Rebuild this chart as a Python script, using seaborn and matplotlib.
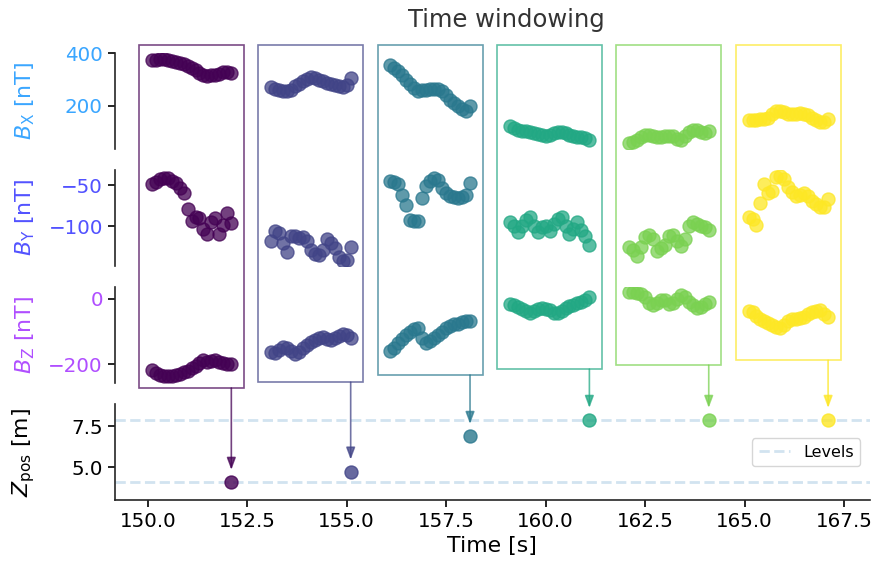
import numpy as np
import pandas as pd
import matplotlib
matplotlib.use("Agg")
import matplotlib.pyplot as plt
import seaborn as sns
from matplotlib.patches import Rectangle

# ---------------- data ----------------
window_starts = [150.1, 153.1, 156.1, 159.1, 162.1, 165.1]
sample_offsets = [0.0, 0.1, 0.2, 0.3, 0.4, 0.5, 0.6, 0.7, 0.8, 0.9, 1.0,
                  1.1, 1.2, 1.3, 1.4, 1.5, 1.6, 1.7, 1.8, 1.9, 2.0]

bx_values = [
    [375, 376, 378, 377, 376, 372, 368, 362, 358, 352, 345, 335, 325, 318, 315, 318, 318, 322, 330, 328, 325],
    [270, 265, 262, 255, 255, 262, 275, 285, 295, 303, 308, 306, 300, 295, 288, 282, 278, 275, 272, 280, 305],
    [355, 345, 332, 318, 300, 285, 268, 258, 260, 262, 263, 265, 263, 255, 240, 222, 210, 198, 190, 182, 198],
    [122, 115, 108, 106, 104, 102, 98, 92, 88, 86, 88, 95, 100, 100, 95, 90, 86, 83, 80, 77, 72],
    [60, 62, 70, 80, 88, 90, 85, 82, 82, 84, 86, 84, 75, 70, 85, 100, 108, 108, 100, 95, 103],
    [145, 145, 148, 150, 150, 155, 170, 180, 182, 175, 168, 168, 170, 172, 170, 165, 155, 145, 140, 140, 150],
]
by_values = [
    [-49, -46, -43, -41, -42, -45, -48, -53, -60, -79, -93, -88, -90, -103, -109, -95, -90, -109, -98, -84, -96],
    [-117, -105, -108, -120, -131, -112, -111, -114, -113, -118, -129, -133, -135, -128, -115, -120, -126, -137, -142, -141, -125],
    [-45, -46, -49, -62, -74, -92, -93, -94, -65, -51, -45, -41, -44, -53, -60, -63, -64, -65, -64, -62, -48],
    [-95, -100, -107, -100, -92, -89, -100, -107, -101, -100, -105, -97, -91, -89, -100, -109, -103, -95, -104, -111, -123],
    [-125, -128, -136, -125, -113, -110, -115, -130, -126, -122, -112, -110, -118, -124, -115, -100, -95, -97, -99, -101, -104],
    [-89, -91, -98, -72, -49, -59, -57, -40, -39, -43, -52, -58, -63, -62, -60, -63, -69, -73, -77, -76, -67],
]
bz_values = [
    [-218, -228, -233, -236, -236, -235, -233, -230, -225, -220, -212, -205, -195, -188, -192, -190, -188, -193, -197, -200, -200],
    [-162, -165, -155, -147, -150, -160, -168, -162, -150, -140, -133, -127, -120, -118, -122, -125, -120, -115, -108, -110, -120],
    [-160, -150, -135, -122, -110, -100, -92, -88, -120, -135, -130, -120, -112, -100, -90, -82, -78, -76, -72, -68, -68],
    [-15, -18, -24, -30, -38, -44, -38, -30, -28, -30, -35, -42, -44, -36, -28, -22, -18, -14, -10, -4, 6],
    [20, 20, 18, 15, 5, -12, -18, -12, -5, -5, -15, -12, 0, 12, 5, -10, -20, -28, -25, -15, -10],
    [-38, -40, -52, -62, -68, -75, -80, -85, -90, -80, -68, -62, -62, -60, -55, -45, -40, -38, -35, -45, -55],
]

z_times = [152.1, 155.1, 158.1, 161.1, 164.1, 167.1]
z_positions = [4.1, 4.72, 6.88, 7.85, 7.85, 7.85]
levels = [4.1, 7.85]

# lower edge of each window frame (in B_Z units)
box_bottom_nT = [-273, -255, -233, -215, -203, -188]

ylabels = [r"$B_\mathrm{X}$ [nT]", r"$B_\mathrm{Y}$ [nT]", r"$B_\mathrm{Z}$ [nT]", r"$Z_\mathrm{pos}$ [m]"]
label_colors = ["#3aa6ff", "#5252ff", "#b04eff", "black"]

# ---------------- frame ----------------
rows = []
for w, t0 in enumerate(window_starts):
    for k, off in enumerate(sample_offsets):
        rows.append(dict(window=w, time=round(t0 + off, 2),
                         Bx=bx_values[w][k], By=by_values[w][k], Bz=bz_values[w][k]))
df = pd.DataFrame(rows)
zdf = pd.DataFrame(dict(window=range(len(z_times)), time=z_times, z=z_positions))

colors = sns.color_palette("viridis", as_cmap=True)(np.linspace(0, 1, len(window_starts)))

sns.set_style("ticks")
plt.rcParams["font.family"] = ["DejaVu Sans"]
plt.rcParams["axes.linewidth"] = 1.2
plt.rcParams["text.color"] = "black"
plt.rcParams["axes.labelcolor"] = "black"
plt.rcParams["xtick.color"] = "black"
plt.rcParams["ytick.color"] = "black"

fig = plt.figure(figsize=(8.76, 5.65), dpi=100)
gs = fig.add_gridspec(4, 1, left=0.131, right=0.993, top=0.9062, bottom=0.115, hspace=0.225)
axes = [fig.add_subplot(gs[i]) for i in range(4)]
ax_bx, ax_by, ax_bz, ax_z = axes
for a in axes[1:]:
    a.sharex(ax_bx)

for w in range(len(window_starts)):
    sub = df[df.window == w]
    for a, comp in zip(axes[:3], ["Bx", "By", "Bz"]):
        sns.scatterplot(x=sub["time"], y=sub[comp], color=colors[w], edgecolor=colors[w],
                        linewidth=1.0, s=88, alpha=0.75, ax=a, legend=False, zorder=3)
    sns.scatterplot(x=zdf["time"][w:w + 1], y=zdf["z"][w:w + 1], color=colors[w],
                    edgecolor=colors[w], linewidth=1.0, s=88, alpha=0.8, ax=ax_z,
                    legend=False, zorder=4)

for i, lv in enumerate(levels):
    ax_z.axhline(lv, color="#1f77b4", alpha=0.2, lw=2, ls="--", zorder=1,
                 label="Levels" if i == 0 else None)

ax_bx.set_xlim(149.17, 168.15)
ax_bx.set_ylim(37.5, 401)
ax_by.set_ylim(-147.5, -31.9)
ax_bz.set_ylim(-257, 35.3)
ax_z.set_ylim(3.03, 8.82)
ax_bx.set_yticks([200, 400])
ax_by.set_yticks([-100, -50])
ax_bz.set_yticks([-200, 0])
ax_z.set_yticks([5.0, 7.5])
ax_z.set_xticks([150.0, 152.5, 155.0, 157.5, 160.0, 162.5, 165.0, 167.5])
ax_z.xaxis.set_major_formatter(matplotlib.ticker.FormatStrFormatter("%.1f"))
ax_z.yaxis.set_major_formatter(matplotlib.ticker.FormatStrFormatter("%.1f"))

for i, a in enumerate(axes):
    a.set_ylabel(ylabels[i], color=label_colors[i], fontsize=15.8, labelpad=8)
    a.tick_params(axis="y", labelcolor=label_colors[i], labelsize=14.3, length=5, width=1.2)
    a.set_xlabel("")
    if i < 3:
        sns.despine(ax=a, bottom=True)
        a.tick_params(axis="x", bottom=False, labelbottom=False)
    else:
        sns.despine(ax=a)
        a.tick_params(axis="x", labelsize=14.3, length=5, width=1.2)
ax_z.set_xlabel("Time [s]", fontsize=15.8, color="black")
fig.align_ylabels(axes)

ax_bx.set_title("Time windowing", fontsize=17.5, x=0.518, pad=19, color="#333333")

leg = ax_z.legend(loc="center right", fontsize=11.5, frameon=True, borderaxespad=0.6)
leg.get_frame().set_edgecolor("#cccccc")

# ---------------- window frames and arrows ----------------
pad = 0.32
inv = fig.transFigure.inverted()
for w, t0 in enumerate(window_starts):
    t1 = z_times[w]
    x0 = ax_z.transData.transform((t0 - pad, 0))[0]
    x1 = ax_z.transData.transform((t1 + pad, 0))[0]
    ytop = ax_bx.transAxes.transform((0, 1.085))[1]
    ybot = ax_bz.transData.transform((0, box_bottom_nT[w]))[1]
    (fx0, fy0) = inv.transform((x0, ybot))
    (fx1, fy1) = inv.transform((x1, ytop))
    fig.add_artist(Rectangle((fx0, fy0), fx1 - fx0, fy1 - fy0, transform=fig.transFigure,
                             fill=False, edgecolor=colors[w], alpha=0.7, lw=1.2))
    ax_z.annotate("", xy=(t1, z_positions[w]), xycoords="data",
                  xytext=(t1, box_bottom_nT[w]), textcoords=ax_bz.transData,
                  annotation_clip=False,
                  arrowprops=dict(arrowstyle="-|>,head_length=0.4,head_width=0.15",
                                  mutation_scale=18, color=colors[w], alpha=0.75,
                                  lw=1.2, shrinkA=0, shrinkB=9))

fig.savefig("out.png", dpi=100)
